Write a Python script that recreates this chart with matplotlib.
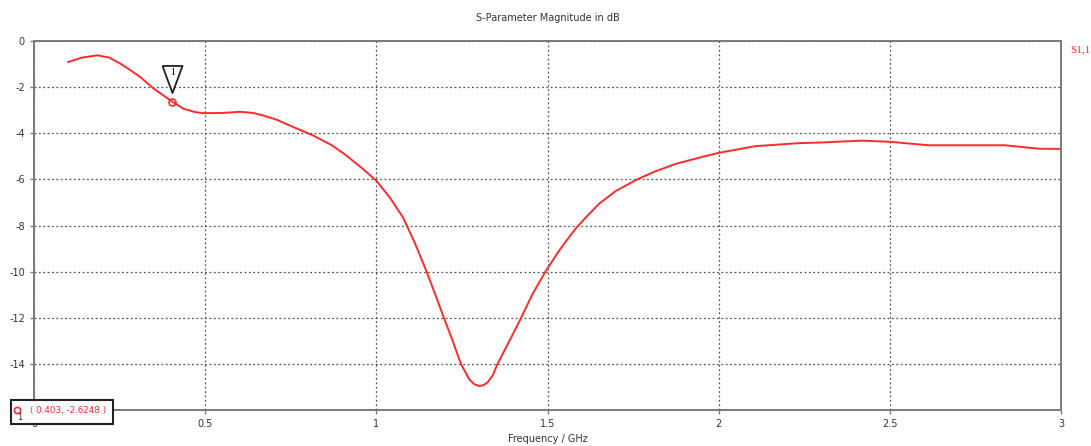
import matplotlib
matplotlib.use("Agg")
import matplotlib.pyplot as plt
import matplotlib.transforms as mtransforms
from matplotlib.patches import Rectangle
from matplotlib.lines import Line2D

freq = [0.10, 0.14, 0.185, 0.22, 0.252, 0.28, 0.311, 0.35, 0.403, 0.437, 0.47, 0.495,
        0.55, 0.602, 0.64, 0.67, 0.71, 0.748, 0.816, 0.87, 0.913, 0.961, 1.00, 1.039,
        1.078, 1.112, 1.146, 1.175, 1.196, 1.223, 1.247, 1.271, 1.286, 1.300, 1.313,
        1.325, 1.34, 1.354, 1.389, 1.423, 1.456, 1.495, 1.534, 1.554, 1.583, 1.612,
        1.651, 1.70, 1.758, 1.81, 1.874, 1.94, 2.00, 2.107, 2.233, 2.30, 2.418, 2.50,
        2.612, 2.70, 2.835, 2.935, 3.00]
s11_db = [-0.91, -0.72, -0.62, -0.72, -0.98, -1.25, -1.57, -2.07, -2.62, -2.94, -3.08,
          -3.13, -3.12, -3.07, -3.12, -3.23, -3.42, -3.67, -4.10, -4.52, -4.97, -5.55,
          -6.06, -6.78, -7.65, -8.74, -9.97, -11.1, -11.95, -13.0, -14.0, -14.66,
          -14.88, -14.96, -14.92, -14.8, -14.5, -14.0, -13.0, -12.0, -10.98, -9.97,
          -9.09, -8.68, -8.12, -7.65, -7.05, -6.5, -6.03, -5.68, -5.33, -5.07, -4.85,
          -4.56, -4.43, -4.40, -4.32, -4.37, -4.52, -4.52, -4.52, -4.67, -4.68]
marker_f = 0.403
marker_db = -2.6248
xticks = [0, 0.5, 1, 1.5, 2, 2.5, 3]
xtick_labels = ["0", "0.5", "1", "1.5", "2", "2.5", "3"]
yticks = [0, -2, -4, -6, -8, -10, -12, -14, -16]
ytick_labels = ["0", "-2", "-4", "-6", "-8", "-10", "-12", "-14", ""]

W, H = 1091, 446
RED = "#ff2a2a"
fig = plt.figure(figsize=(W/100, H/100), dpi=100)
ax = fig.add_axes([34/W, 1-410/H, (1061-34)/W, (410-41)/H])
ax.plot(freq, s11_db, color=RED, lw=1.4, solid_joinstyle="round")
ax.set_xlim(0, 3)
ax.set_ylim(-16, 0)
ax.set_xticks(xticks)
ax.set_xticklabels(xtick_labels)
ax.set_yticks(yticks)
ax.set_yticklabels(ytick_labels)
ax.grid(True, ls=(0, (1.5, 2)), color="#555555", lw=0.9)
for s in ax.spines.values():
    s.set_color("#7a7a7a")
    s.set_linewidth(1.4)
ax.tick_params(labelsize=7, colors="#7a7a7a", labelcolor="#333333", length=3, width=1)

# marker point and flag (triangle ~20 px wide, ~27 px tall)
ax.plot([marker_f], [marker_db], marker="o", ms=5, mfc="none", mec=RED, mew=1.2, zorder=5)
tri = [(-10, 13.5), (10, 13.5), (0, -13.5), (-10, 13.5)]
trans = mtransforms.offset_copy(ax.transData, fig=fig, x=0, y=23, units="dots")
ax.plot([marker_f], [marker_db], marker=tri, ms=19.5, mfc="white", mec="#222222", mew=1.3,
        transform=trans, zorder=6)
trans2 = mtransforms.offset_copy(ax.transData, fig=fig, x=1, y=29, units="dots")
ax.text(marker_f, marker_db, "1", transform=trans2, ha="center", va="center",
        fontsize=7, family="Liberation Serif", zorder=7)

fig.text(548/W, 1-18/H, "S-Parameter Magnitude in dB", ha="center", va="center",
         fontsize=7, color="#333333")
fig.text(548/W, 1-439/H, "Frequency / GHz", ha="center", va="center",
         fontsize=7, color="#333333")
fig.text(1070/W, 1-50/H, "S1,1", ha="left", va="center", fontsize=8,
         color=RED, family="Liberation Serif")

# marker readout box
fig.patches.append(Rectangle((11/W, 1-424/H), 102/W, 24/H, transform=fig.transFigure,
                             fc="white", ec="#222222", lw=1.5, zorder=10))
fig.lines.append(Line2D([17/W], [1-410/H], marker="o", ms=4.5, mfc="none", mec=RED,
                        mew=1.2, transform=fig.transFigure, zorder=11))
fig.text(30/W, 1-411/H, "( 0.403, -2.6248 )", ha="left", va="center",
         fontsize=6.3, color=RED, zorder=12)
fig.text(20/W, 1-417/H, "1", ha="center", va="center", fontsize=6, color="#222244",
         zorder=12)

fig.savefig("out.png", dpi=100)
